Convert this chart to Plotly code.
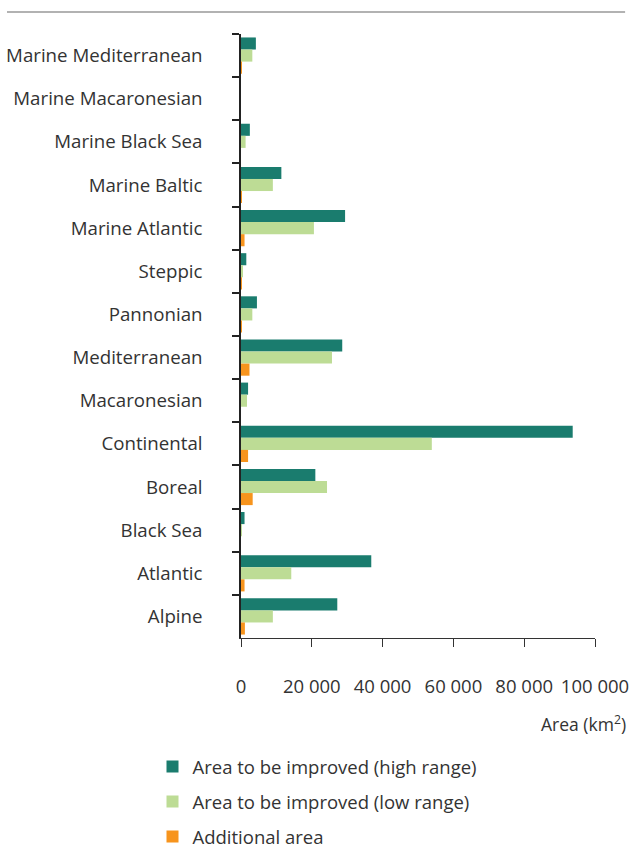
import plotly.graph_objects as go

regions = [
    "Marine Mediterranean", "Marine Macaronesian", "Marine Black Sea", "Marine Baltic",
    "Marine Atlantic", "Steppic", "Pannonian", "Mediterranean", "Macaronesian",
    "Continental", "Boreal", "Black Sea", "Atlantic", "Alpine",
]
high_range = [4200, 0, 2500, 11400, 29400, 1500, 4500, 28600, 2000, 93700, 21000, 1000, 36800, 27200]
low_range = [3200, 0, 1300, 9000, 20600, 500, 3200, 25700, 1700, 53900, 24300, 100, 14200, 9000]
additional = [200, 0, 0, 100, 1000, 200, 200, 2400, 0, 2000, 3300, 0, 1000, 1100]

series = [
    ("Area to be improved (high range)", high_range, "#1a7c6e"),
    ("Area to be improved (low range)", low_range, "#bddc95"),
    ("Additional area", additional, "#f7941d"),
]

FONT = "Open Sans, Noto Sans, sans-serif"
TEXT = "#333333"

fig = go.Figure()
for i, (name, vals, color) in enumerate(series):
    fig.add_trace(go.Bar(
        y=regions, x=vals, name=name, orientation="h",
        marker=dict(color=color, line=dict(width=0)),
        legendgroup=str(i),
    ))

fig.update_layout(
    width=631, height=848,
    margin=dict(l=241, r=36, t=34, b=210, autoexpand=False),
    paper_bgcolor="white", plot_bgcolor="white",
    font=dict(family=FONT, size=18, color=TEXT),
    barmode="group", bargap=0.16, bargroupgap=0,
    separators=". ",
    showlegend=True,
    legend=dict(
        x=-0.25, xanchor="left", y=-0.182, yanchor="top",
        font=dict(size=18.5, color=TEXT), tracegroupgap=8,
        traceorder="grouped",
    ),
    xaxis=dict(
        range=[0, 100000], tickvals=[0, 20000, 40000, 60000, 80000, 100000],
        tickformat=",d", ticks="outside", ticklen=8, tickcolor="#333333",
        showline=True, linecolor="#333333", linewidth=1,
        showgrid=False, zeroline=False, ticklabelstandoff=24,
        tickfont=dict(size=18.5, color=TEXT),
    ),
    yaxis=dict(
        type="category", autorange="reversed", tickson="boundaries",
        ticks="outside", ticklen=7, tickcolor="#222222", tickwidth=1.5,
        showline=True, linecolor="#222222", linewidth=1.5,
        showgrid=False, zeroline=False, ticklabelstandoff=33,
        tickfont=dict(size=18.7, color=TEXT),
    ),
    shapes=[dict(
        type="line", xref="paper", yref="paper",
        x0=-0.661, x1=1.085, y0=1.0364, y1=1.0364,
        line=dict(color="#999999", width=1.5),
    )],
    annotations=[dict(
        text="Area (km<sup>2</sup>)", xref="paper", yref="paper",
        x=1.093, y=-0.142, xanchor="right", yanchor="middle",
        showarrow=False, font=dict(size=17.5, color=TEXT),
    )],
)

fig.write_html(
    "out.html",
    config={"displayModeBar": False},
    post_script="document.body.style.margin='0';",
)
